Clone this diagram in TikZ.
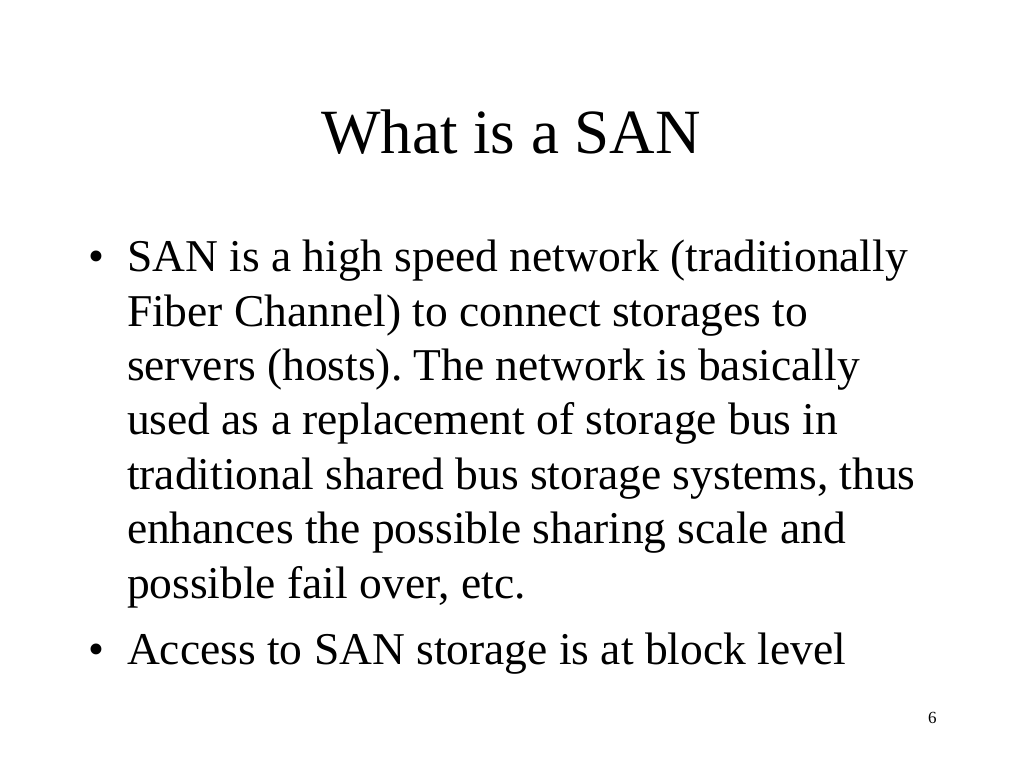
\documentclass[tikz,border=0pt]{standalone}
\usepackage{fontspec}
\setmainfont{Liberation Serif}
\frenchspacing
\begin{document}
\begin{tikzpicture}[x=1pt,y=-1pt,
  body/.style={anchor=base west,inner sep=0pt,outer sep=0pt,font=\fontsize{45.5}{54}\selectfont},
  bul/.style={anchor=base west,inner sep=0pt,outer sep=0pt,font=\fontsize{45.5}{54}\selectfont}]
\useasboundingbox[fill=white] (0,0) rectangle (1024,768);
\node[anchor=base,inner sep=0pt,font=\fontsize{63}{70}\selectfont] (title) at (511,153.3) {What is a SAN};
\node[bul] (b1) at (88,271.7) {•};
\node[body] (l1) at (127,271.7) {SAN is a high speed network (traditionally};
\node[body] (l2) at (127,326) {Fiber Channel) to connect storages to};
\node[body] (l3) at (127,380.3) {servers (hosts). The network is basically};
\node[body] (l4) at (127,434.7) {used as a replacement of storage bus in};
\node[body] (l5) at (127,489) {traditional shared bus storage systems, thus};
\node[body] (l6) at (127,543.7) {enhances the possible sharing scale and};
\node[body] (l7) at (127,598.3) {possible fail over, etc.};
\node[bul] (b2) at (88,664) {•};
\node[body] (l8) at (127,664) {Access to SAN storage is at block level};
\node[anchor=base west,inner sep=0pt,font=\fontsize{17}{20}\selectfont] (pg) at (928,723) {6};
\end{tikzpicture}
\end{document}
